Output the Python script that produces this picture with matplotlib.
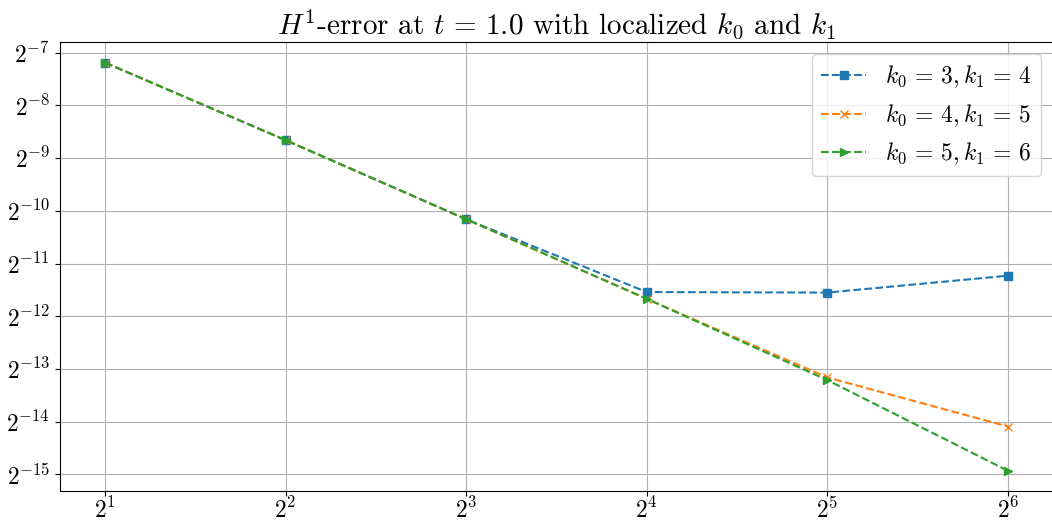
import matplotlib
matplotlib.use("Agg")
import matplotlib.pyplot as plt
from matplotlib.ticker import LogLocator, LogFormatterSciNotation

plt.rcParams['font.family'] = 'serif'
plt.rcParams['font.serif'] = ['cmr10', 'DejaVu Serif']
plt.rcParams['mathtext.fontset'] = 'cm'
plt.rcParams['axes.formatter.use_mathtext'] = True

# mesh sizes 1/H and H1 errors for three localization choices
H_inv = [2, 4, 8, 16, 32, 64]
err_k3 = [2**-7.19, 2**-8.66, 2**-10.16, 2**-11.54, 2**-11.55, 2**-11.23]
err_k4 = [2**-7.19, 2**-8.66, 2**-10.16, 2**-11.67, 2**-13.16, 2**-14.09]
err_k5 = [2**-7.19, 2**-8.66, 2**-10.16, 2**-11.67, 2**-13.21, 2**-14.93]
labels = [r'$k_0\,=\,3, k_1\,=\,4$', r'$k_0\,=\,4, k_1\,=\,5$', r'$k_0\,=\,5, k_1\,=\,6$']

fig = plt.figure(figsize=(10.52, 5.22), dpi=100)
ax = fig.add_axes([0.057, 0.059, 0.944, 0.860])

ax.plot(H_inv, err_k3, '--', marker='s', label=labels[0])
ax.plot(H_inv, err_k4, '--', marker='x', label=labels[1])
ax.plot(H_inv, err_k5, '--', marker='>', label=labels[2])

ax.set_xscale('log', base=2)
ax.set_yscale('log', base=2)
ax.xaxis.set_major_locator(LogLocator(base=2))
ax.yaxis.set_major_locator(LogLocator(base=2))
ax.xaxis.set_major_formatter(LogFormatterSciNotation(base=2))
ax.yaxis.set_major_formatter(LogFormatterSciNotation(base=2))
ax.minorticks_off()
ax.tick_params(labelsize=17)
ax.tick_params(axis='x', pad=1)

ax.grid(True, color='#b0b0b0', linewidth=0.8)
ax.set_title(r'$H^1$-error at $t\,=\,1.0$ with localized $k_0$ and $k_1$', fontsize=21)
ax.legend(loc='upper right', fontsize=17, handlelength=1.9)

fig.savefig('out.png', dpi=100)
